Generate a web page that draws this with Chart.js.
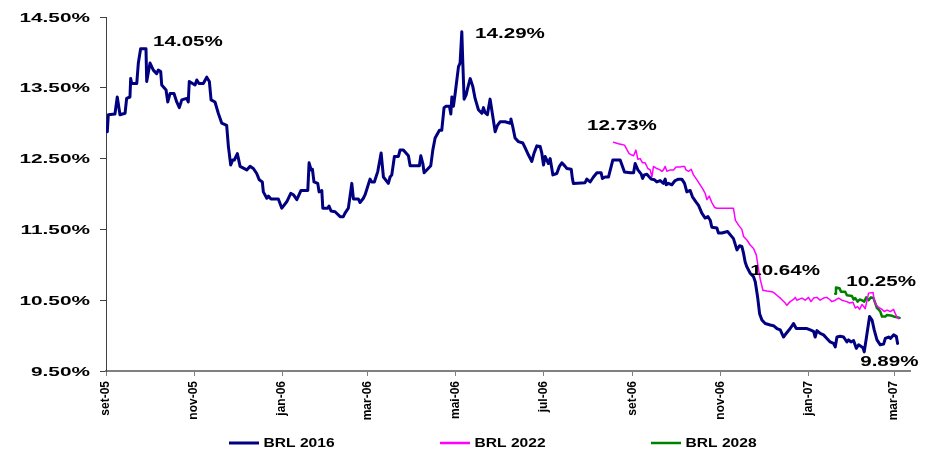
<!DOCTYPE html>
<html>
<head>
<meta charset="utf-8">
<script src="https://cdn.jsdelivr.net/npm/chart.js@4/dist/chart.umd.min.js"></script>
<style>
  html, body { margin: 0; padding: 0; background: #fff; }
</style>
</head>
<body>
<canvas id="curveChart" width="943" height="450"></canvas>
<script>
// x values are days counted from 1 Sep 2005
const tickDays = [0, 61, 122, 181, 242, 303, 365, 426, 487, 546];
const tickLabels = ['set-05', 'nov-05', 'jan-06', 'mar-06', 'mai-06', 'jul-06', 'set-06', 'nov-06', 'jan-07', 'mar-07'];
const yTicks = [9.5, 10.5, 11.5, 12.5, 13.5, 14.5];

const days2016 = [
	0.9, 1.6, 6.2, 7.8, 9.7, 13.2, 14.3, 16.6, 17.1, 17.8, 21.3, 22.4, 24.0, 27.7, 28.2, 30.5, 32.8, 35.1, 36.2, 37.9,
	38.6, 41.6, 42.8, 44.4, 47.1, 49.0, 50.8, 52.5, 55.9, 57.0, 57.7, 61.7, 62.9, 64.4, 67.4, 69.8, 71.6, 72.8, 75.5, 77.8,
	80.2, 83.6, 84.8, 86.4, 87.8, 88.9, 91.0, 92.9, 97.5, 99.8, 102.1, 104.4, 106.2, 108.3, 109.0, 111.4, 112.5, 114.3, 119.4, 121.8,
	125.2, 128.0, 129.8, 132.2, 135.1, 139.8, 140.7, 142.1, 143.0, 144.1, 146.7, 147.6, 149.5, 150.2, 153.6, 154.5, 155.9, 158.7, 162.2, 164.4,
	165.6, 167.9, 170.3, 171.4, 174.8, 176.0, 178.3, 179.5, 182.9, 184.1, 185.9, 188.3, 190.6, 192.2, 195.6, 196.8, 198.0, 199.8, 202.6, 203.7,
	206.0, 209.5, 210.7, 217.1, 218.1, 219.5, 220.4, 222.2, 225.0, 226.4, 228.0, 231.0, 232.6, 234.2, 235.6, 237.9, 238.9, 239.6, 240.7, 241.9,
	244.2, 245.3, 246.5, 247.2, 248.1, 249.5, 250.4, 252.3, 254.1, 255.7, 258.0, 260.4, 261.5, 262.6, 264.2, 266.1, 268.0, 269.6, 271.2, 273.0,
	276.5, 280.0, 280.5, 281.8, 283.4, 285.7, 288.8, 290.4, 292.7, 295.0, 296.6, 298.5, 300.8, 301.9, 303.1, 304.2, 306.5, 307.7, 309.6, 312.3,
	314.1, 315.8, 318.1, 319.3, 322.3, 323.1, 323.8, 331.9, 333.1, 335.4, 337.7, 340.1, 343.0, 343.9, 345.8, 348.1, 351.1, 356.2, 359.2, 363.1,
	365.5, 366.6, 368.5, 370.8, 371.7, 373.0, 374.7, 377.7, 380.0, 381.6, 383.9, 386.2, 387.4, 388.1, 389.7, 392.0, 394.3, 396.6, 398.9, 400.8,
	402.4, 404.7, 406.3, 408.7, 410.5, 412.8, 415.1, 417.0, 418.6, 419.7, 423.2, 424.3, 426.7, 430.6, 434.7, 437.1, 438.9, 440.5, 441.7, 442.8,
	444.0, 446.3, 448.6, 449.8, 451.4, 452.8, 454.4, 456.7, 460.2, 462.4, 464.8, 467.1, 469.4, 471.2, 474.0, 476.3, 478.2, 485.6, 487.9, 490.2,
	491.3, 492.5, 494.8, 497.1, 499.4, 501.7, 504.0, 505.2, 506.4, 508.7, 511.0, 513.3, 514.4, 516.1, 517.9, 519.8, 521.4, 524.4, 525.3, 526.7,
	529.0, 530.7, 532.2, 534.1, 536.4, 538.7, 539.9, 542.2, 543.4, 545.6, 547.5, 548.4
];
const brl2016 = [
	12.88, 13.12, 13.13, 13.37, 13.12, 13.14, 13.35, 13.37, 13.63, 13.56, 13.56, 13.85, 14.05, 14.05, 13.59, 13.85, 13.75, 13.70, 13.75, 13.73,
	13.54, 13.47, 13.30, 13.42, 13.42, 13.30, 13.22, 13.33, 13.35, 13.30, 13.59, 13.54, 13.61, 13.56, 13.56, 13.65, 13.59, 13.33, 13.30, 13.14,
	13.00, 12.97, 12.67, 12.41, 12.48, 12.48, 12.57, 12.39, 12.34, 12.39, 12.36, 12.29, 12.20, 12.17, 12.03, 11.94, 11.97, 11.93, 11.93, 11.80,
	11.89, 12.01, 11.99, 11.92, 12.05, 12.05, 12.44, 12.34, 12.35, 12.17, 12.15, 12.03, 12.05, 11.80, 11.80, 11.83, 11.76, 11.75, 11.68, 11.68,
	11.73, 11.80, 12.15, 11.93, 11.93, 11.88, 11.94, 11.99, 12.21, 12.17, 12.17, 12.32, 12.58, 12.24, 12.15, 12.24, 12.27, 12.53, 12.53, 12.62,
	12.62, 12.54, 12.40, 12.40, 12.54, 12.43, 12.30, 12.34, 12.40, 12.62, 12.79, 12.90, 12.90, 13.22, 13.24, 13.24, 13.13, 13.37, 13.24, 13.42,
	13.80, 13.85, 14.29, 13.85, 13.34, 13.40, 13.48, 13.63, 13.52, 13.35, 13.19, 13.14, 13.22, 13.15, 13.12, 13.34, 13.09, 12.88, 12.97, 13.02,
	13.02, 13.00, 13.06, 12.95, 12.79, 12.74, 12.72, 12.65, 12.55, 12.46, 12.58, 12.68, 12.67, 12.58, 12.41, 12.53, 12.43, 12.50, 12.27, 12.29,
	12.39, 12.44, 12.39, 12.36, 12.35, 12.22, 12.15, 12.16, 12.21, 12.17, 12.24, 12.30, 12.30, 12.22, 12.24, 12.24, 12.48, 12.48, 12.31, 12.30,
	12.30, 12.43, 12.34, 12.28, 12.22, 12.27, 12.28, 12.21, 12.20, 12.17, 12.19, 12.15, 12.21, 12.13, 12.15, 12.13, 12.19, 12.21, 12.21, 12.15,
	12.03, 12.05, 11.96, 11.89, 11.84, 11.73, 11.66, 11.68, 11.63, 11.53, 11.52, 11.45, 11.45, 11.47, 11.37, 11.21, 11.27, 11.26, 11.16, 11.04,
	10.97, 10.88, 10.83, 10.76, 10.55, 10.31, 10.22, 10.17, 10.15, 10.14, 10.10, 10.08, 9.98, 10.03, 10.10, 10.17, 10.10, 10.10, 10.08, 10.06,
	9.98, 10.07, 10.03, 10.01, 9.96, 9.91, 9.89, 9.84, 9.98, 9.99, 9.98, 9.91, 9.94, 9.91, 9.93, 9.82, 9.87, 9.83, 9.77, 9.96,
	10.27, 10.22, 10.08, 9.94, 9.87, 9.88, 9.96, 9.98, 9.96, 10.01, 9.99, 9.89
];

const days2022 = [
	351.6, 355.0, 357.4, 359.2, 360.8, 362.4, 364.3, 365.5, 367.1, 368.5, 370.1, 371.7, 373.5, 375.4, 377.0, 378.2, 379.3, 381.6, 383.9, 385.1,
	386.2, 387.4, 388.6, 390.9, 393.2, 394.9, 397.8, 399.0, 400.8, 401.8, 403.6, 405.4, 407.0, 409.4, 411.6, 413.2, 415.1, 416.3, 417.9, 419.7,
	421.6, 423.2, 434.7, 436.0, 438.2, 440.5, 441.7, 444.0, 446.3, 448.6, 450.5, 452.1, 453.3, 455.1, 457.9, 461.3, 462.4, 464.8, 467.1, 470.5,
	471.7, 474.0, 476.3, 477.5, 478.6, 482.1, 484.4, 486.7, 488.4, 490.2, 492.5, 494.8, 497.1, 499.4, 501.3, 502.9, 505.2, 507.5, 509.8, 513.3,
	515.1, 517.5, 519.1, 520.7, 522.1, 523.7, 524.9, 526.0, 528.3, 531.4, 532.3, 534.1, 535.9, 537.6, 539.2, 541.1, 543.4, 545.6, 546.8, 548.0,
	549.1
];
const brl2022 = [
	12.73, 12.71, 12.70, 12.69, 12.63, 12.57, 12.55, 12.54, 12.62, 12.49, 12.50, 12.44, 12.44, 12.36, 12.34, 12.24, 12.39, 12.36, 12.34, 12.32,
	12.34, 12.39, 12.32, 12.34, 12.34, 12.38, 12.38, 12.39, 12.39, 12.34, 12.32, 12.35, 12.27, 12.20, 12.13, 12.08, 12.01, 11.92, 11.97, 11.88,
	11.81, 11.80, 11.80, 11.63, 11.56, 11.50, 11.40, 11.35, 11.28, 11.23, 11.14, 10.93, 10.79, 10.64, 10.63, 10.62, 10.61, 10.57, 10.53, 10.46,
	10.43, 10.48, 10.51, 10.54, 10.50, 10.53, 10.50, 10.54, 10.48, 10.53, 10.54, 10.50, 10.53, 10.54, 10.51, 10.48, 10.50, 10.53, 10.50, 10.48,
	10.46, 10.47, 10.39, 10.41, 10.37, 10.44, 10.41, 10.38, 10.60, 10.61, 10.48, 10.42, 10.39, 10.37, 10.34, 10.36, 10.34, 10.37, 10.31, 10.26,
	10.24
];

const days2028 = [
	505.2, 505.7, 508.2, 509.2, 512.1, 513.3, 516.8, 517.9, 519.1, 520.7, 522.1, 523.7, 525.3, 526.7, 528.3, 529.9, 531.7, 532.9, 534.1, 535.2,
	536.4, 537.6, 539.9, 541.1, 544.6, 545.6, 548.0, 549.8
];
const brl2028 = [
	10.59, 10.68, 10.67, 10.62, 10.62, 10.57, 10.56, 10.51, 10.53, 10.48, 10.51, 10.50, 10.48, 10.54, 10.50, 10.54, 10.53, 10.46, 10.39, 10.37,
	10.34, 10.27, 10.27, 10.29, 10.28, 10.27, 10.26, 10.25
];

// value labels, anchored at (day, rate) of their text baseline start
const noteTexts = ['14.05%', '14.29%', '12.73%', '10.64%', '10.25%', '9.89%'];
const noteDays = [32.6, 255.7, 333.3, 446.3, 512.8, 522.5];
const noteRates = [14.09, 14.20, 12.90, 10.86, 10.70, 9.57];

const FONT = '"Liberation Sans", Arial, sans-serif';

const toPoints = (days, vals) => days.map((d, i) => ({x: d, y: vals[i]}));

// excel-like wide bold text
const wideText = (ctx, text, x, y, size, stretch, align) => {
	ctx.save();
	ctx.font = 'bold ' + size + 'px ' + FONT;
	ctx.fillStyle = '#000';
	ctx.textAlign = align;
	ctx.textBaseline = 'alphabetic';
	ctx.translate(x, y);
	ctx.scale(stretch, 1);
	ctx.fillText(text, 0, 0);
	ctx.restore();
};

const extras = {
	id: 'extras',
	afterDraw(chart) {
		const ctx = chart.ctx;
		const xs = chart.scales.x;
		const ys = chart.scales.y;

		// y tick labels
		yTicks.forEach(v => {
			wideText(ctx, v.toFixed(2) + '%', 90, ys.getPixelForValue(v) + 4.6, 13, 1.6, 'right');
		});

		// value labels
		noteTexts.forEach((t, i) => {
			wideText(ctx, t, xs.getPixelForValue(noteDays[i]), ys.getPixelForValue(noteRates[i]), 14, 1.47, 'left');
		});

		// legend
		const ly = 443;
		chart.data.datasets.forEach((ds, i) => {
			const lx = 229 + i * 211;
			ctx.save();
			ctx.strokeStyle = ds.borderColor;
			ctx.lineWidth = i === 0 ? 3 : 2.5;
			ctx.beginPath();
			ctx.moveTo(lx, ly);
			ctx.lineTo(lx + 30, ly);
			ctx.stroke();
			ctx.restore();
			wideText(ctx, ds.label, lx + 34.5, ly + 4.3, 12, 1.3, 'left');
		});
	}
};

const data = {
	datasets: [{
		label: 'BRL 2016',
		data: toPoints(days2016, brl2016),
		borderColor: '#000080',
		borderWidth: 3
	}, {
		label: 'BRL 2022',
		data: toPoints(days2022, brl2022),
		borderColor: '#FF00FF',
		borderWidth: 1.5
	}, {
		label: 'BRL 2028',
		data: toPoints(days2028, brl2028),
		borderColor: '#008000',
		borderWidth: 2.5
	}]
};

const config = {
	type: 'line',
	data: data,
	options: {
		responsive: false,
		animation: false,
		layout: {padding: {left: 0, right: 33, top: 17, bottom: 20}},
		elements: {
			point: {radius: 0},
			line: {tension: 0, borderJoinStyle: 'round', borderCapStyle: 'round', fill: false}
		},
		plugins: {
			legend: {display: false},
			tooltip: {enabled: false}
		},
		scales: {
			x: {
				type: 'linear',
				min: 0,
				max: 557,
				afterBuildTicks: s => { s.ticks = tickDays.map(v => ({value: v})); },
				afterFit: s => { s.height = 59; },
				grid: {drawOnChartArea: false, drawTicks: true, tickLength: 5, color: '#808080'},
				border: {display: true, color: '#808080', width: 2},
				ticks: {
					autoSkip: false,
					minRotation: 90,
					maxRotation: 90,
					padding: 5,
					color: '#000',
					font: {family: FONT, size: 12, weight: 'bold'},
					callback: (v, i) => tickLabels[i]
				}
			},
			y: {
				min: 9.5,
				max: 14.5,
				afterBuildTicks: s => { s.ticks = yTicks.map(v => ({value: v})); },
				afterFit: s => { s.width = 106; },
				grid: {drawOnChartArea: false, drawTicks: true, tickLength: 6, color: '#404040'},
				border: {display: true, color: '#404040', width: 1},
				ticks: {
					color: 'rgba(0,0,0,0)',
					font: {family: FONT, size: 13, weight: 'bold'},
					callback: v => v.toFixed(2) + '%'
				}
			}
		}
	},
	plugins: [extras]
};

const ctx = document.getElementById('curveChart').getContext('2d');
new Chart(ctx, config);
</script>
</body>
</html>
